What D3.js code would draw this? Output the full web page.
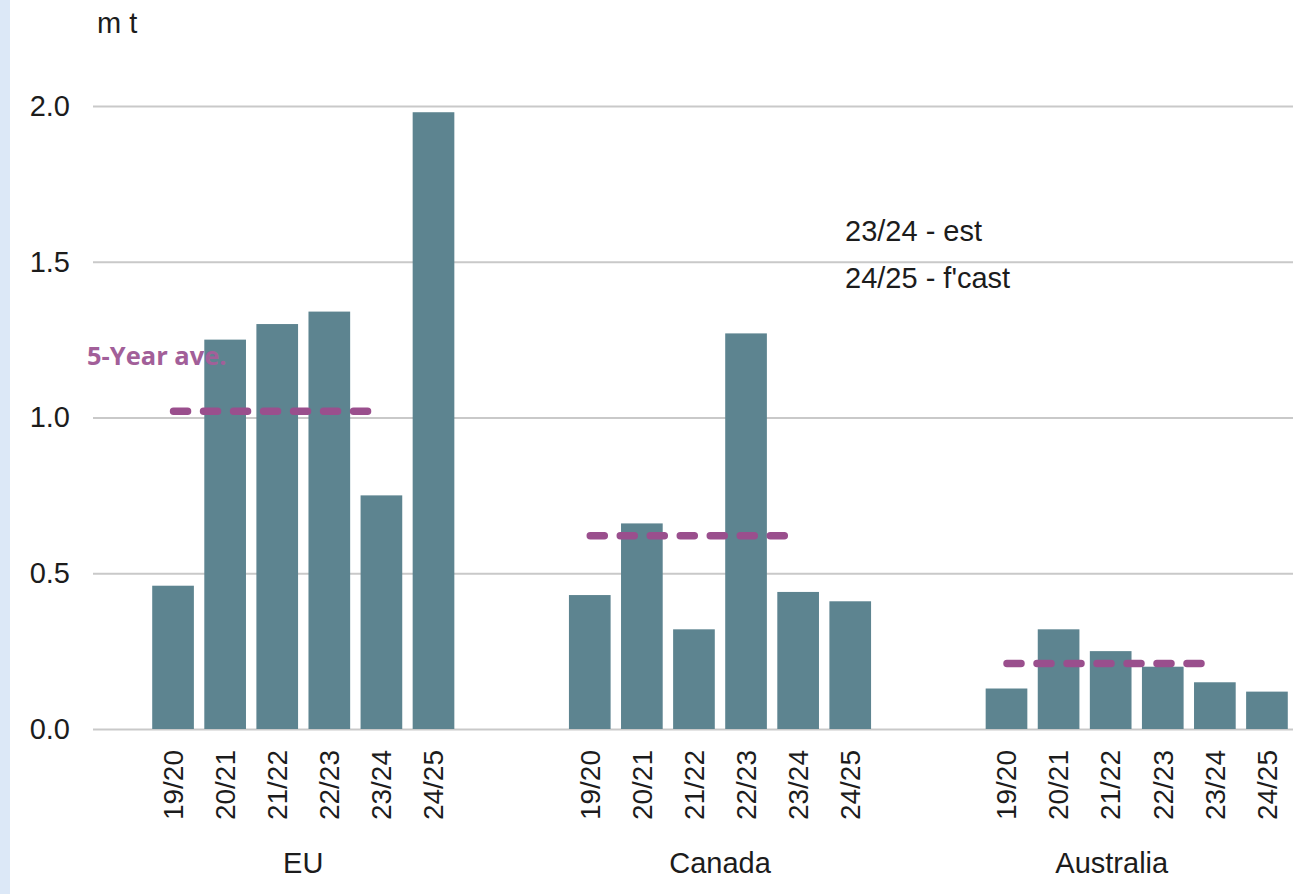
<!DOCTYPE html>
<html lang="en">
    <head>
        <meta charset="utf-8" />
        <script src="https://d3js.org/d3.v7.min.js"></script>
        <title>Production by origin</title>
        <style>
            body { margin: 0; background: #fff; }
            text { font-family: "Liberation Sans", Arial, sans-serif; fill: #1c1c1c; }
        </style>
    </head>
    <body>
        <div id="container"></div>
        <script>
            const groups = ['EU', 'Canada', 'Australia'];
            const seasons = ['19/20', '20/21', '21/22', '22/23', '23/24', '24/25'];
            const euValues = [0.46, 1.25, 1.30, 1.34, 0.75, 1.98];
            const canadaValues = [0.43, 0.66, 0.32, 1.27, 0.44, 0.41];
            const australiaValues = [0.13, 0.32, 0.25, 0.20, 0.15, 0.12];
            const fiveYearAve = [1.02, 0.62, 0.21];
            const yTicks = [0, 0.5, 1.0, 1.5, 2.0];
            const notes = ['23/24 - est', "24/25 - f'cast"];

            const width = 1295;
            const height = 894;
            const seriesByGroup = [euValues, canadaValues, australiaValues];

            const svg = d3.select('#container')
                        .append('svg')
                        .attr('width', width)
                        .attr('height', height);

            // light blue strip on the left
            svg.append('rect')
               .attr('x', 0).attr('y', 0)
               .attr('width', 10).attr('height', height)
               .attr('fill', '#dce8f7');

            const scaleY = d3.scaleLinear()
                             .domain([0, 2])
                             .range([729, 106]);

            const outerX = d3.scaleBand()
                             .domain(groups)
                             .range([147, 1293])
                             .paddingInner(0.25)
                             .paddingOuter(0);

            const innerX = d3.scaleBand()
                             .domain(seasons)
                             .range([0, outerX.bandwidth()])
                             .paddingInner(0.2)
                             .paddingOuter(0.1);

            // gridlines
            const yAxis = d3.axisLeft(scaleY)
                            .tickValues(yTicks)
                            .tickSize(-(1293 - 93))
                            .tickPadding(23)
                            .tickFormat(d3.format('.1f'));

            const yg = svg.append('g')
                          .attr('transform', 'translate(93, 0)')
                          .call(yAxis);
            yg.select('.domain').remove();
            yg.selectAll('.tick line')
              .attr('stroke', '#c9c9c9')
              .attr('stroke-width', 2);
            yg.selectAll('.tick text')
              .attr('fill', '#1c1c1c')
              .style('font-size', '29px')
              .style('font-family', '"Liberation Sans", Arial, sans-serif');

            svg.append('text')
               .attr('x', 97)
               .attr('y', 33)
               .style('font-size', '29px')
               .text('m t');

            // bars
            const rows = [];
            groups.forEach((g, gi) => {
                seasons.forEach((s, si) => {
                    rows.push({ group: g, season: s, value: seriesByGroup[gi][si] });
                });
            });

            svg.append('g')
               .selectAll('rect')
               .data(rows)
               .enter()
               .append('rect')
               .attr('x', d => outerX(d.group) + innerX(d.season))
               .attr('y', d => scaleY(d.value))
               .attr('width', innerX.bandwidth())
               .attr('height', d => scaleY(0) - scaleY(d.value))
               .attr('fill', '#5d8490');

            // season tick labels
            svg.append('g')
               .selectAll('text')
               .data(rows)
               .enter()
               .append('text')
               .attr('transform', d => {
                   const cx = outerX(d.group) + innerX(d.season) + innerX.bandwidth() / 2;
                   return `translate(${cx}, 750) rotate(-90)`;
               })
               .attr('text-anchor', 'end')
               .attr('dy', '0.35em')
               .style('font-size', '28px')
               .text(d => d.season);

            // group labels
            const groupShift = { EU: 0, Canada: 0, Australia: -25 };
            svg.append('g')
               .selectAll('text')
               .data(groups)
               .enter()
               .append('text')
               .attr('x', d => outerX(d) + outerX.bandwidth() / 2 + groupShift[d])
               .attr('y', 873)
               .attr('text-anchor', 'middle')
               .style('font-size', '29px')
               .text(d => d);

            // 5-year average dashes
            const centre = (g, s) => outerX(g) + innerX(s) + innerX.bandwidth() / 2;
            svg.append('g')
               .selectAll('line')
               .data(groups)
               .enter()
               .append('line')
               .attr('x1', d => centre(d, '19/20') + 0.5)
               .attr('x2', d => centre(d, '23/24') - 13.5)
               .attr('y1', (d, i) => scaleY(fiveYearAve[i]))
               .attr('y2', (d, i) => scaleY(fiveYearAve[i]))
               .attr('stroke', '#9a4f8d')
               .attr('stroke-width', 7.5)
               .attr('stroke-linecap', 'round')
               .attr('stroke-dasharray', '14 16');

            svg.append('text')
               .attr('x', 87)
               .attr('y', scaleY(fiveYearAve[0]) - 46)
               .style('font-family', '"Open Sans", sans-serif')
               .style('font-weight', 'bold')
               .style('font-size', '25.5px')
               .style('fill', '#a25f99')
               .text('5-Year ave.');

            // notes
            svg.append('g')
               .selectAll('text')
               .data(notes)
               .enter()
               .append('text')
               .attr('x', 845)
               .attr('y', (d, i) => 241 + i * 47)
               .style('font-size', '29px')
               .text(d => d);
        </script>
    </body>
</html>
